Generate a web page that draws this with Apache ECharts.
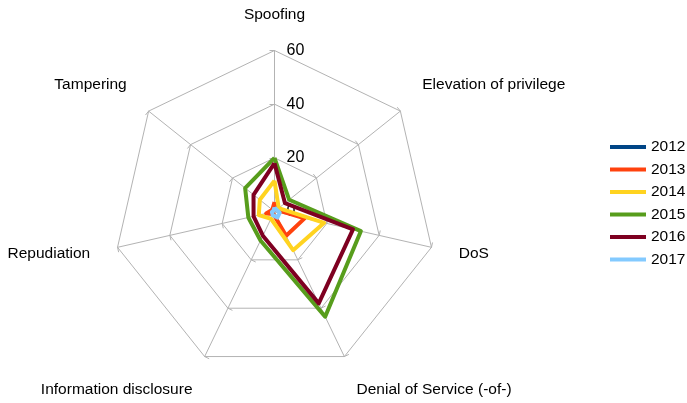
<!DOCTYPE html>
<html>
<head>
<meta charset="utf-8">
<script src="https://cdn.jsdelivr.net/npm/echarts@6/dist/echarts.min.js"></script>
<style>
  html, body { margin: 0; padding: 0; background: #fff; }
  #chart { width: 687px; height: 403px; }
</style>
</head>
<body>
<div id="chart"></div>
<script>
// Indicators listed counter-clockwise from the top (ECharts order),
// which gives the clockwise order of the reference.
const indicatorNames = ['Spoofing', 'Tampering', 'Repudiation', 'Information disclosure',
  'Denial of Service (-of-)', 'DoS', 'Elevation of privilege'];
const axisMax = 60;
const tickLabels = ['0', '20', '40', '60'];
const years = ['2012', '2013', '2014', '2015', '2016', '2017'];
const colors = ['#004586', '#ff420e', '#ffd320', '#579d1c', '#7e0021', '#83caff'];

const v2012 = [0, 0, 0, 0, 0, 0, 0];
const v2013 = [3.5, 1, 3.2, 1, 10, 11.5, 1];
const v2014 = [11.5, 7, 6, 3, 16, 19, 2];
const v2015 = [20, 14, 10, 12, 43.5, 33, 7];
const v2016 = [18, 10, 8, 10, 38, 30, 5];
const v2017 = [1.5, 0.5, 1, 1.5, 2.5, 2, 1];
const allValues = [v2012, v2013, v2014, v2015, v2016, v2017];

const chart = echarts.init(document.getElementById('chart'));
const FONT = '"Liberation Sans", Arial, sans-serif';

const indicator = indicatorNames.map((n, i) => {
  const o = { name: n, min: 0, max: axisMax };
  if (i === 0) {
    o.axisLabel = { show: true, color: '#000', fontSize: 16, fontFamily: FONT, margin: -12, align: 'left',
      formatter: (v) => tickLabels.indexOf(String(Math.round(v))) >= 0 ? String(Math.round(v)) : '' };
  }
  return o;
});

// vertical nudges for some axis names
const nameStyle = {
  'Tampering': 'up', 'Elevation of privilege': 'up',
  'Information disclosure': 'down', 'Denial of Service (-of-)': 'down'
};

chart.setOption({
  animation: false,
  backgroundColor: '#fff',
  legend: {
    orient: 'vertical',
    left: 605,
    top: 134,
    icon: 'rect',
    itemWidth: 36,
    itemHeight: 4,
    itemGap: 6.5,
    textStyle: { color: '#000', fontSize: 15.5, fontFamily: FONT, lineHeight: 16 },
    data: years
  },
  radar: {
    center: [274.5, 211.5],
    radius: 161,
    startAngle: 90,
    shape: 'polygon',
    splitNumber: 3,
    axisNameGap: 28,
    axisName: {
      color: '#000',
      fontSize: 15.5,
      fontFamily: FONT,
      formatter: (name) => nameStyle[name] ? '{' + nameStyle[name] + '|' + name + '}' : name,
      rich: {
        up: { fontSize: 15.5, fontFamily: FONT, color: '#000', padding: [0, 0, 18, 0] },
        down: { fontSize: 15.5, fontFamily: FONT, color: '#000', padding: [16, 0, 0, 0] }
      }
    },
    axisLine: { lineStyle: { color: '#b3b3b3', width: 1 } },
    splitLine: { lineStyle: { color: '#b3b3b3', width: 1 } },
    splitArea: { show: false },
    axisTick: { show: true, inside: false, length: 5, interval: 0, lineStyle: { color: '#b3b3b3', width: 1 } },
    axisLabel: { show: false },
    indicator: indicator
  },
  series: [{
    type: 'radar',
    symbol: 'none',
    data: years.map((y, i) => ({
      name: y,
      value: allValues[i],
      lineStyle: { color: colors[i], width: 4 },
      itemStyle: { color: colors[i] }
    }))
  }]
});
</script>
</body>
</html>
